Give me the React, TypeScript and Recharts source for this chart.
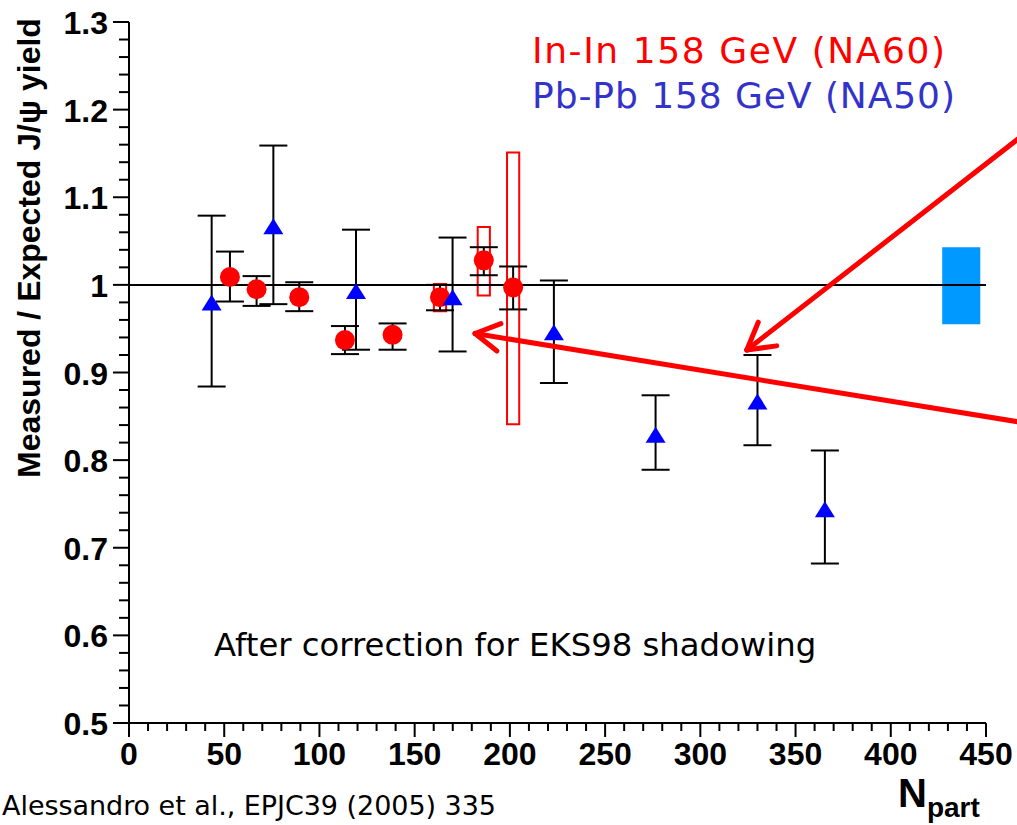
import React from 'react';
import {
  ComposedChart,
  Scatter,
  XAxis,
  YAxis,
  ErrorBar,
  ReferenceLine,
  ReferenceArea,
} from 'recharts';

// In-In 158 GeV (NA60): N_part, ratio, lower / upper end of the statistical error bar
const inInNpart = [53, 67, 89.4, 113.4, 138.4, 163.3, 186.3, 201.7];
const inInRatio = [1.009, 0.995, 0.986, 0.937, 0.943, 0.986, 1.028, 0.997];
const inInLow = [0.981, 0.976, 0.97, 0.921, 0.926, 0.971, 1.011, 0.972];
const inInHigh = [1.038, 1.01, 1.003, 0.953, 0.956, 1.0, 1.043, 1.021];

// In-In systematic uncertainty boxes
const inInSysNpart = [163.3, 186.3, 201.7];
const inInSysLow = [0.97, 0.988, 0.841];
const inInSysHigh = [1.001, 1.066, 1.151];

// Pb-Pb 158 GeV (NA50)
const pbPbNpart = [43.4, 75.8, 119.2, 169.9, 223.1, 276.5, 330, 365.4];
const pbPbRatio = [0.98, 1.067, 0.993, 0.986, 0.946, 0.829, 0.867, 0.744];
const pbPbLow = [0.884, 0.978, 0.926, 0.924, 0.888, 0.789, 0.817, 0.682];
const pbPbHigh = [1.079, 1.159, 1.063, 1.054, 1.005, 0.874, 0.92, 0.811];

// global normalisation uncertainty band
const normNpart = [427, 447];
const normRatio = [0.955, 1.043];

// annotation arrows: [tail, tip, barb A, barb B] in (N_part, ratio)
const arrowUpper = [
  [472, 1.1753],
  [324.4, 0.9257],
  [340.1, 0.9304],
  [330.4, 0.9574],
];
const arrowLower = [
  [472, 0.8419],
  [181.7, 0.9445],
  [193.2, 0.9245],
  [195.3, 0.9558],
];

// axis ticks
const xMajorTicks = [0, 50, 100, 150, 200, 250, 300, 350, 400, 450];
const xMinorStep = 10;
const yMajorTicks = [0.5, 0.6, 0.7, 0.8, 0.9, 1, 1.1, 1.2, 1.3];
const yMinorStep = 0.02;

const xTicks: number[] = [];
for (let v = 0; v <= 450; v += xMinorStep) xTicks.push(v);
const yTicks: number[] = [];
for (let i = 0; i <= 40; i++) yTicks.push(Math.round((0.5 + i * yMinorStep) * 100) / 100);

const inInData = inInNpart.map((x, i) => ({
  x,
  y: inInRatio[i],
  err: [inInRatio[i] - inInLow[i], inInHigh[i] - inInRatio[i]],
}));
const pbPbData = pbPbNpart.map((x, i) => ({
  x,
  y: pbPbRatio[i],
  err: [pbPbRatio[i] - pbPbLow[i], pbPbHigh[i] - pbPbRatio[i]],
}));

const SYS_HALF_WIDTH = 3.2;
const AXIS_FONT = '"Liberation Sans", Arial, Helvetica, sans-serif';
const TEXT_FONT = '"DejaVu Sans", Verdana, sans-serif';

const XTick = (props: any) => {
  const { x, y, payload } = props;
  const v = payload.value;
  const major = xMajorTicks.includes(v);
  return (
    <g>
      <line x1={x} x2={x} y1={y} y2={y + (major ? 14 : 8)} stroke="#000" strokeWidth={2} />
      {major && (
        <text
          x={x}
          y={y + 42}
          textAnchor="middle"
          fontFamily={AXIS_FONT}
          fontWeight="bold"
          fontSize={32}
          fill="#000"
        >
          {v}
        </text>
      )}
    </g>
  );
};

const YTick = (props: any) => {
  const { x, y, payload } = props;
  const v = payload.value;
  const major = yMajorTicks.some((t) => Math.abs(t - v) < 1e-6);
  return (
    <g>
      <line x1={x - (major ? 16 : 10)} x2={x} y1={y} y2={y} stroke="#000" strokeWidth={2} />
      {major && (
        <text
          x={x - 21}
          y={y + 12}
          textAnchor="end"
          fontFamily={AXIS_FONT}
          fontWeight="bold"
          fontSize={32}
          fill="#000"
        >
          {String(v)}
        </text>
      )}
    </g>
  );
};

const Dot = (props: any) => {
  const { cx, cy } = props;
  return <circle cx={cx} cy={cy} r={10} fill="#ff0000" />;
};

const Triangle = (props: any) => {
  const { cx, cy } = props;
  return (
    <polygon
      points={`${cx},${cy - 8} ${cx + 10},${cy + 8} ${cx - 10},${cy + 8}`}
      fill="#0000ff"
    />
  );
};

const arrowSegments = (a: number[][]) => [
  [a[0], a[1]],
  [a[1], a[2]],
  [a[1], a[3]],
];

const YTitle = () => (
  <text
    x={29}
    y={248}
    transform="rotate(-90, 29, 248)"
    textAnchor="middle"
    dominantBaseline="central"
    fontFamily={AXIS_FONT}
    fontWeight="bold"
    fontSize={32}
    fill="#000"
  >
    Measured / Expected J/ψ yield
  </text>
);

const XTitle = () => (
  <text x={898} y={807} fontFamily={AXIS_FONT} fontWeight="bold" fill="#000">
    <tspan fontSize={40}>N</tspan>
    <tspan fontSize={28} dy={10}>part</tspan>
  </text>
);

export default function App() {
  return (
    <div style={{ position: 'absolute', left: 0, top: 0, width: 1017, height: 825, background: '#fff' }}>
      <ComposedChart
        width={1017}
        height={825}
        margin={{ top: 22, right: 31, bottom: 0, left: 0 }}
      >
        <XAxis
          xAxisId={0}
          type="number"
          dataKey="x"
          domain={[0, 450]}
          allowDataOverflow
          ticks={xTicks}
          interval={0}
          tick={XTick}
          tickLine={false}
          tickSize={0}
          tickMargin={0}
          height={102}
          axisLine={{ stroke: '#000', strokeWidth: 2 }}
          label={XTitle}
        />
        <XAxis
          xAxisId="top"
          orientation="top"
          type="number"
          domain={[0, 450]}
          height={0}
          tick={false}
          tickLine={false}
          axisLine={{ stroke: '#000', strokeWidth: 2 }}
        />
        <YAxis
          yAxisId={0}
          type="number"
          dataKey="y"
          domain={[0.5, 1.3]}
          allowDataOverflow
          ticks={yTicks}
          interval={0}
          tick={YTick}
          tickLine={false}
          tickSize={0}
          tickMargin={0}
          width={129}
          axisLine={{ stroke: '#000', strokeWidth: 2 }}
          label={YTitle}
        />
        <YAxis
          yAxisId="right"
          orientation="right"
          type="number"
          domain={[0.5, 1.3]}
          width={0}
          tick={false}
          tickLine={false}
          axisLine={{ stroke: '#000', strokeWidth: 2 }}
        />

        <ReferenceArea
          x1={normNpart[0]}
          x2={normNpart[1]}
          y1={normRatio[0]}
          y2={normRatio[1]}
          fill="#0099ff"
          fillOpacity={1}
          stroke="none"
        />
        <ReferenceLine y={1} stroke="#000" strokeWidth={2} />

        {inInSysNpart.map((x, i) => (
          <ReferenceArea
            key={`sys-${i}`}
            x1={x - SYS_HALF_WIDTH}
            x2={x + SYS_HALF_WIDTH}
            y1={inInSysLow[i]}
            y2={inInSysHigh[i]}
            fill="none"
            stroke="#ff0000"
            strokeWidth={2}
          />
        ))}

        <Scatter data={inInData} dataKey="y" shape={Dot} isAnimationActive={false}>
          <ErrorBar dataKey="err" direction="y" width={14} stroke="#000" strokeWidth={2} />
        </Scatter>
        <Scatter data={pbPbData} dataKey="y" shape={Triangle} isAnimationActive={false}>
          <ErrorBar dataKey="err" direction="y" width={14} stroke="#000" strokeWidth={2} />
        </Scatter>

        {[...arrowSegments(arrowUpper), ...arrowSegments(arrowLower)].map((seg, i) => (
          <ReferenceLine
            key={`arrow-${i}`}
            segment={[
              { x: seg[0][0], y: seg[0][1] },
              { x: seg[1][0], y: seg[1][1] },
            ]}
            ifOverflow="visible"
            stroke="#ff0000"
            strokeWidth={5}
            strokeLinecap="round"
          />
        ))}
      </ComposedChart>

      <svg
        width={1017}
        height={825}
        style={{ position: 'absolute', left: 0, top: 0, pointerEvents: 'none' }}
      >
        <text
          x={532}
          y={63}
          fontFamily={TEXT_FONT}
          fontSize={36}
          fill="#ff0000"
          textLength={413}
          lengthAdjust="spacing"
        >
          In-In 158 GeV (NA60)
        </text>
        <text
          x={532}
          y={108}
          fontFamily={TEXT_FONT}
          fontSize={36}
          fill="#3333cc"
          textLength={423}
          lengthAdjust="spacing"
        >
          Pb-Pb 158 GeV (NA50)
        </text>
        <text x={214} y={656} fontFamily={TEXT_FONT} fontSize={32.3} fill="#000">
          After correction for EKS98 shadowing
        </text>
        <text
          x={2}
          y={815}
          fontFamily={TEXT_FONT}
          fontSize={27}
          fill="#000"
          textLength={494}
          lengthAdjust="spacing"
        >
          Alessandro et al., EPJC39 (2005) 335
        </text>
      </svg>
    </div>
  );
}
